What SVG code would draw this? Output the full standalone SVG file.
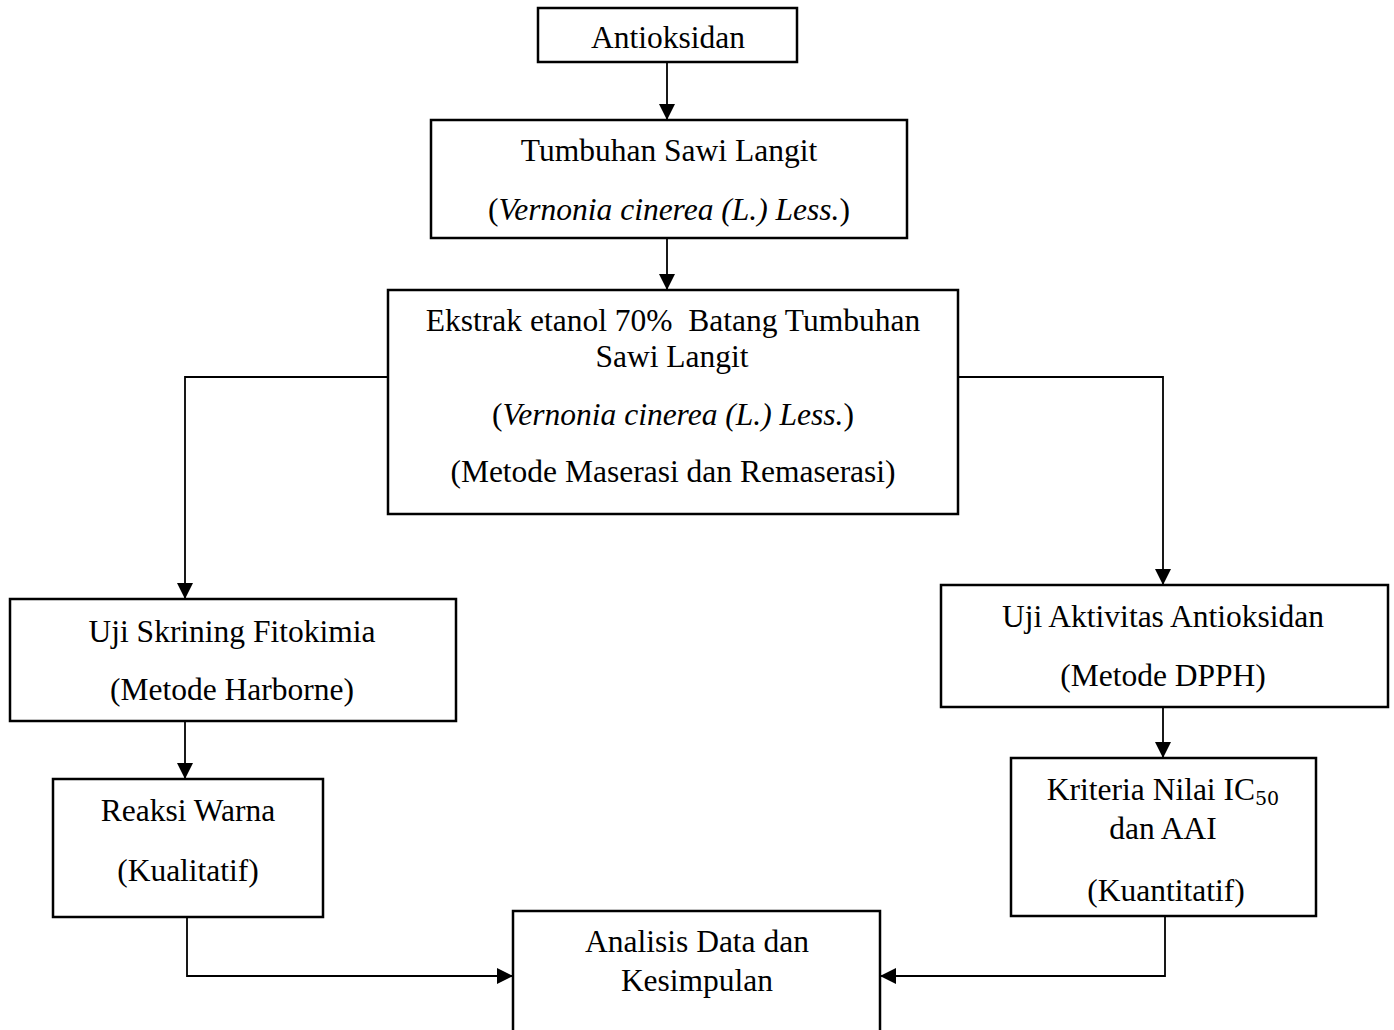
<svg xmlns="http://www.w3.org/2000/svg" width="1394" height="1030" viewBox="0 0 1394 1030">
<style>
.box{fill:#fff;stroke:#000;stroke-width:2.5}
.t{font-family:"Liberation Serif","Times New Roman",serif;font-size:31.5px;fill:#000;text-anchor:middle}
.i{font-style:italic}
.sub{font-family:"DejaVu Serif","Liberation Serif",serif;font-size:19px}
.c{fill:none;stroke:#000;stroke-width:1.8}
</style>
<defs>
<marker id="ah2" viewBox="0 0 10 10" refX="10" refY="5" markerWidth="16" markerHeight="16" markerUnits="userSpaceOnUse" orient="auto">
<path d="M0,0 L10,5 L0,10 Z" fill="#000"/>
</marker>
</defs>
<rect width="1394" height="1030" fill="#fff"/>
<g id="connectors">
<line class="c" x1="667" y1="62" x2="667" y2="120" marker-end="url(#ah2)"/>
<line class="c" x1="667" y1="238" x2="667" y2="290" marker-end="url(#ah2)"/>
<polyline class="c" points="388,377 185,377 185,599" marker-end="url(#ah2)"/>
<polyline class="c" points="958,377 1163,377 1163,585" marker-end="url(#ah2)"/>
<line class="c" x1="185" y1="721" x2="185" y2="779" marker-end="url(#ah2)"/>
<line class="c" x1="1163" y1="707" x2="1163" y2="758" marker-end="url(#ah2)"/>
<polyline class="c" points="187,917 187,976 513,976" marker-end="url(#ah2)"/>
<polyline class="c" points="1165,916 1165,976 880,976" marker-end="url(#ah2)"/>
</g>
<g id="antioksidan">
<rect class="box" x="538" y="8" width="259" height="54"/>
<text class="t" x="668" y="48">Antioksidan</text>
</g>
<g id="tumbuhan">
<rect class="box" x="431" y="120" width="476" height="118"/>
<text class="t" x="669" y="161">Tumbuhan Sawi Langit</text>
<text class="t" x="669" y="220">(<tspan class="i">Vernonia cinerea (L.) Less.</tspan>)</text>
</g>
<g id="ekstrak">
<rect class="box" x="388" y="290" width="570" height="224"/>
<text class="t" x="673" y="331" xml:space="preserve">Ekstrak etanol 70%  Batang Tumbuhan</text>
<text class="t" x="672" y="367">Sawi Langit</text>
<text class="t" x="673" y="425">(<tspan class="i">Vernonia cinerea (L.) Less.</tspan>)</text>
<text class="t" x="673" y="482">(Metode Maserasi dan Remaserasi)</text>
</g>
<g id="skrining">
<rect class="box" x="10" y="599" width="446" height="122"/>
<text class="t" x="232" y="642">Uji Skrining Fitokimia</text>
<text class="t" x="232" y="700">(Metode Harborne)</text>
</g>
<g id="reaksi">
<rect class="box" x="53" y="779" width="270" height="138"/>
<text class="t" x="188" y="821">Reaksi Warna</text>
<text class="t" x="188" y="881">(Kualitatif)</text>
</g>
<g id="aktivitas">
<rect class="box" x="941" y="585" width="447" height="122"/>
<text class="t" x="1163" y="627">Uji Aktivitas Antioksidan</text>
<text class="t" x="1163" y="686">(Metode DPPH)</text>
</g>
<g id="kriteria">
<rect class="box" x="1011" y="758" width="305" height="158"/>
<text class="t" x="1163" y="800">Kriteria Nilai IC<tspan class="sub" dy="5">50</tspan></text>
<text class="t" x="1163" y="839">dan AAI</text>
<text class="t" x="1166" y="901">(Kuantitatif)</text>
</g>
<g id="analisis">
<rect class="box" x="513" y="911" width="367" height="130"/>
<text class="t" x="697" y="952">Analisis Data dan</text>
<text class="t" x="697" y="991">Kesimpulan</text>
</g>
</svg>
